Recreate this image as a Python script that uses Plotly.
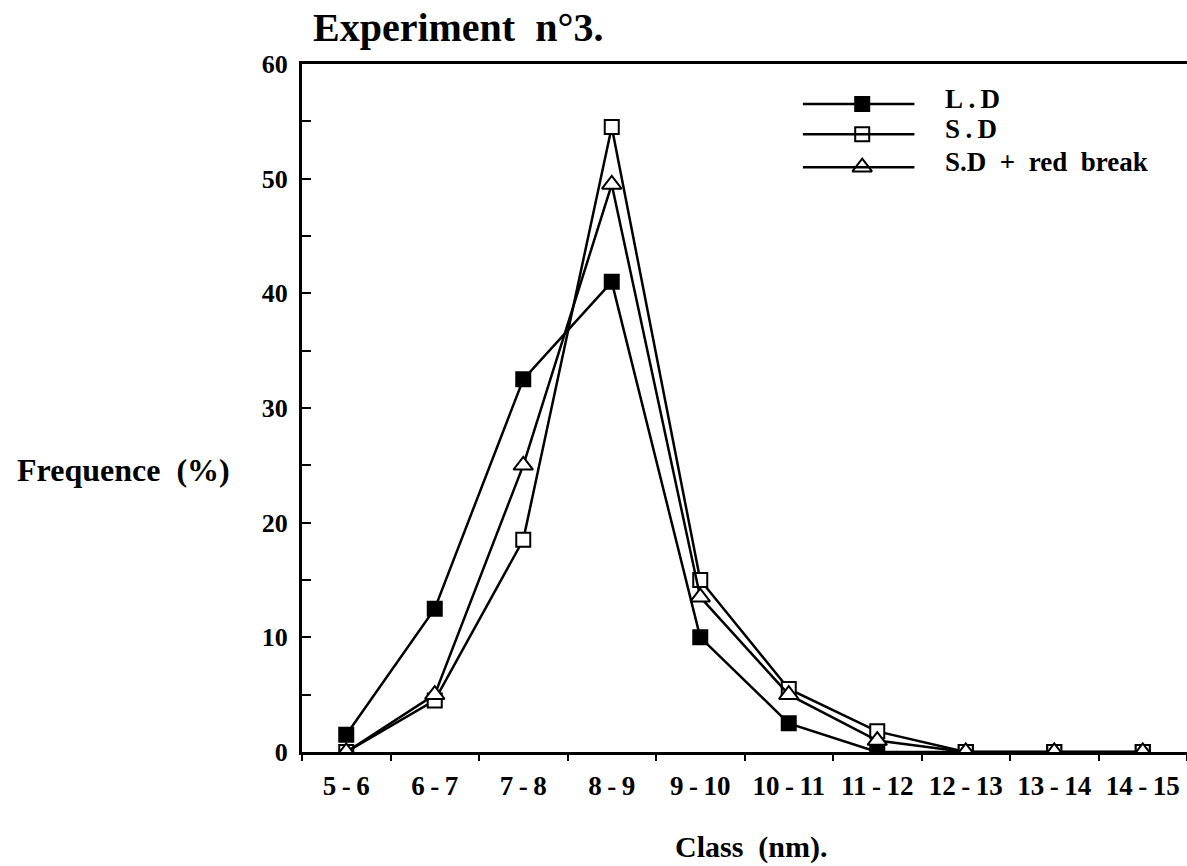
import plotly.graph_objects as go

# Size classes (nm) and frequency (%) of each condition
classes = ["5-6", "6-7", "7-8", "8-9", "9-10", "10-11", "11-12", "12-13", "13-14", "14-15"]
ld = [1.5, 12.5, 32.5, 41.0, 10.0, 2.5, 0.0, 0.0, 0.0, 0.0]
sd = [0.0, 4.5, 18.5, 54.5, 15.0, 5.5, 1.8, 0.0, 0.0, 0.0]
sd_red = [0.0, 5.0, 25.0, 49.5, 13.5, 5.0, 1.0, 0.0, 0.0, 0.0]

series_names = ["L.D", "S.D", "S.D + red break"]
y_ticks = [0, 5, 10, 15, 20, 25, 30, 35, 40, 45, 50, 55, 60]
y_ticktext = ["0", "", "10", "", "20", "", "30", "", "40", "", "50", "", "60"]

FONT = "Liberation Serif"
W, H = 1187, 866
L, R, T, B = 302, 0, 64, 114
THIN = "\u2009"

styles = [
    dict(symbol="square", color="black", line=dict(color="black", width=2), size=14),
    dict(symbol="square", color="white", line=dict(color="black", width=2), size=14),
    dict(symbol="triangle-up", color="white", line=dict(color="black", width=2), size=17),
]

fig = go.Figure()
for name, vals, st in zip(series_names, [ld, sd, sd_red], styles):
    fig.add_trace(go.Scatter(
        x=classes, y=vals, name=name, mode="lines+markers",
        line=dict(color="black", width=2.5),
        marker=st, showlegend=False,
    ))

# Key at the upper right (paper coordinates)
key_x0, key_x1, key_xm, key_tx = 0.566, 0.692, 0.633, 0.724
key_rows = [0.942, 0.898, 0.850]
for name, ky, st in zip(series_names, key_rows, styles):
    fig.add_shape(type="line", xref="paper", yref="paper",
                  x0=key_x0, x1=key_x1, y0=ky, y1=ky,
                  line=dict(color="black", width=2.5))
    fig.add_trace(go.Scatter(
        x=[key_xm], y=[ky], xaxis="x2", yaxis="y2", mode="markers",
        marker=st, showlegend=False, hoverinfo="skip", cliponaxis=False,
    ))
    label = name.replace(".", THIN + "." + THIN) if " " not in name else name.replace(" ", "  ")
    fig.add_annotation(xref="paper", yref="paper", x=key_tx, y=ky + 0.007,
                       text=f"<b>{label}</b>", showarrow=False,
                       xanchor="left", yanchor="middle",
                       font=dict(family=FONT, size=27, color="black"))

fig.add_annotation(xref="paper", yref="paper", x=0.010, y=1.0, yshift=12,
                   text="<b>Experiment  n°3.</b>", showarrow=False,
                   xanchor="left", yanchor="bottom",
                   font=dict(family=FONT, size=40, color="black"))
fig.add_annotation(xref="paper", yref="paper", x=-0.079, y=0.41,
                   text="<b>Frequence  (%)</b>", showarrow=False,
                   xanchor="right", yanchor="middle",
                   font=dict(family=FONT, size=32, color="black"))
fig.add_annotation(xref="paper", yref="paper", x=0.508, y=0, yshift=-95,
                   text="<b>Class  (nm).</b>", showarrow=False,
                   xanchor="center", yanchor="middle",
                   font=dict(family=FONT, size=30, color="black"))

x_ticktext = [f"<b>{c.replace('-', THIN + '-' + THIN)}</b>" for c in classes]
y_ticklabels = [f"<b>{t}</b>" if t else "" for t in y_ticktext]

fig.update_layout(
    width=W, height=H,
    margin=dict(l=L, r=R, t=T, b=B),
    plot_bgcolor="white", paper_bgcolor="white",
    showlegend=False,
    xaxis=dict(
        type="category", range=[-0.5, 9.5],
        tickmode="array", tickvals=classes, ticktext=x_ticktext,
        showline=True, linecolor="black", linewidth=3, mirror=True,
        ticks="outside", tickson="boundaries", ticklen=6, tickwidth=2, tickcolor="black",
        showgrid=False, zeroline=False,
        tickfont=dict(family=FONT, size=27, color="black"),
        ticklabelstandoff=8,
    ),
    yaxis=dict(
        range=[0, 60], tickmode="array", tickvals=y_ticks, ticktext=y_ticklabels,
        showline=True, linecolor="black", linewidth=3,
        ticks="inside", ticklen=9, tickwidth=2, tickcolor="black",
        showgrid=False, zeroline=False,
        tickfont=dict(family=FONT, size=26, color="black"),
        ticklabelstandoff=6,
    ),
    xaxis2=dict(overlaying="x", range=[0, 1], visible=False, domain=[0, 1], anchor="y2"),
    yaxis2=dict(overlaying="y", range=[0, 1], visible=False, domain=[0, 1], anchor="x2"),
)

fig.write_html("out.html")
